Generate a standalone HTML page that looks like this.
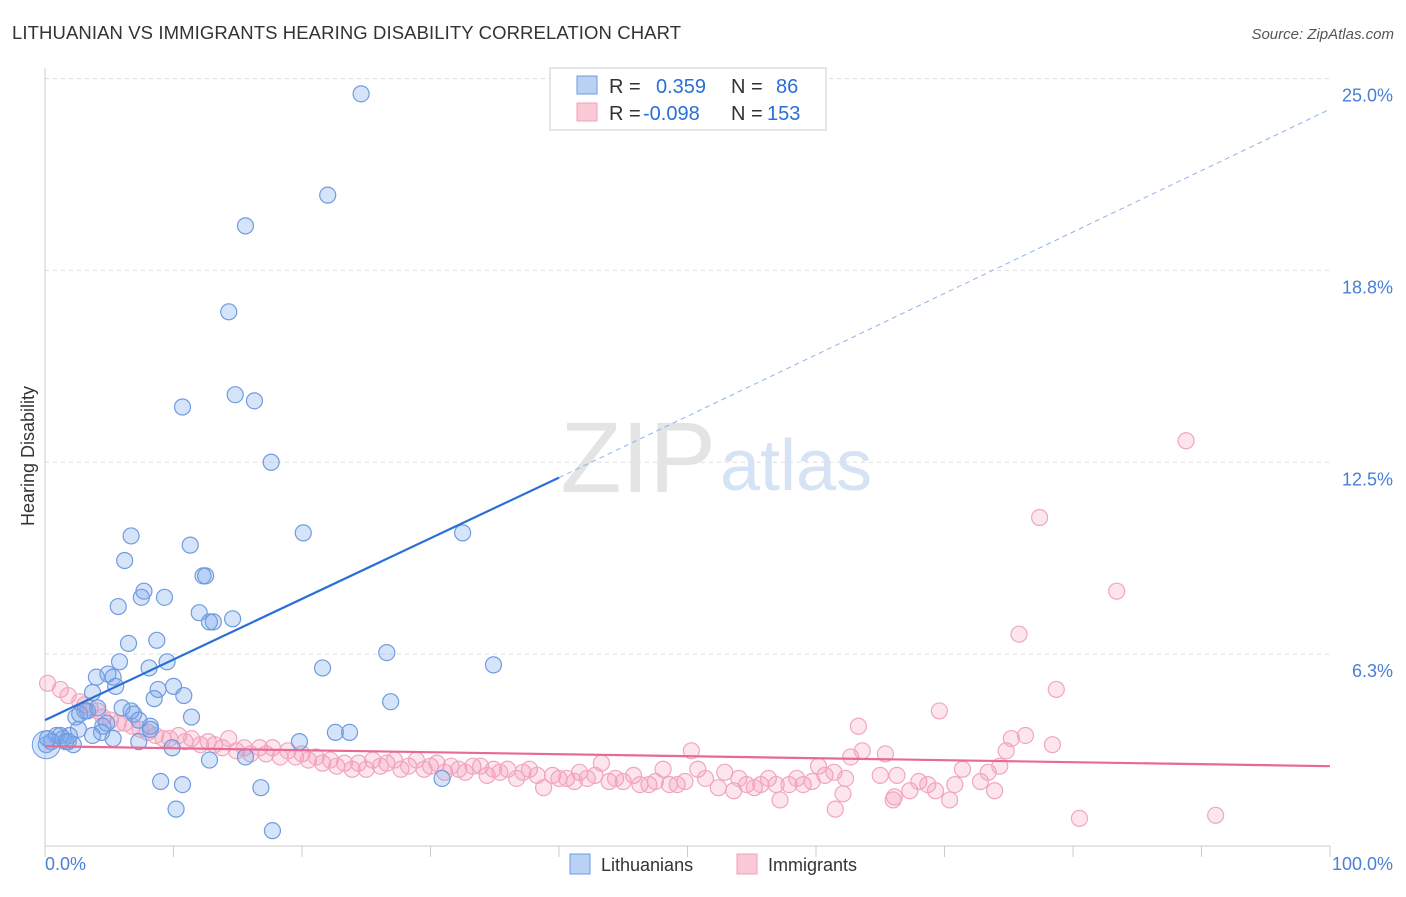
<!DOCTYPE html>
<html><head><meta charset="utf-8"><style>
body{margin:0;background:#fff;font-family:"Liberation Sans",sans-serif}
svg text{font-family:"Liberation Sans",sans-serif}
</style></head><body>
<svg width="1406" height="892" viewBox="0 0 1406 892">
<text x="12" y="39" font-size="18.5" letter-spacing="0.1" fill="#333">LITHUANIAN VS IMMIGRANTS HEARING DISABILITY CORRELATION CHART</text>
<text x="1394" y="39" font-size="15" fill="#555" font-style="italic" text-anchor="end">Source: ZipAtlas.com</text>
<g id="grid"></g>
<line x1="45" y1="68" x2="45" y2="846" stroke="#ccc"/>
<line x1="45" y1="846" x2="1330" y2="846" stroke="#ccc"/>
<g id="xticks"></g>
<text x="34" y="456" font-size="18" fill="#333" transform="rotate(-90 34 456)" text-anchor="middle">Hearing Disability</text>
<text x="716" y="492" font-size="100" fill="#e4e4e4" font-family="Liberation Serif" text-anchor="end">ZIP</text>
<text x="720" y="490" font-size="72" fill="#d5e3f5">atlas</text>
<g id="pink"></g><g id="blue"></g><g id="lines"></g>
<g>
<rect x="550" y="68" width="276" height="62" fill="#fff" stroke="#ccc"/>
<rect x="577" y="76" width="20" height="18" fill="#b9d1f5" stroke="#6f9be0"/>
<rect x="577" y="103" width="20" height="18" fill="#fbc8d6" stroke="#f0a0b8"/>
<text x="609" y="93" font-size="20" fill="#333">R = <tspan fill="#2a6fd6" x="656">0.359</tspan><tspan x="731">N =</tspan><tspan fill="#2a6fd6" x="776">86</tspan></text>
<text x="609" y="120" font-size="20" fill="#333">R = <tspan fill="#2a6fd6" x="643">-0.098</tspan><tspan x="731">N =</tspan><tspan fill="#2a6fd6" x="767">153</tspan></text>
</g>
<g>
<rect x="570" y="854" width="20" height="20" fill="#b9d1f5" stroke="#6f9be0"/>
<text x="601" y="871" font-size="18" fill="#333">Lithuanians</text>
<rect x="737" y="854" width="20" height="20" fill="#fbc8d6" stroke="#f0a0b8"/>
<text x="768" y="871" font-size="18" fill="#333">Immigrants</text>
</g>
</svg>
<script>
const yTicks=[6.25,12.5,18.75,25];
const yTickLabels=["6.3%","12.5%","18.8%","25.0%"];
const xTicks=[0,10,20,30,40,50,60,70,80,90,100];
const blueX=[24.6,22.0,15.6,14.3,10.7,14.8,16.3,17.6,6.7,20.1,32.5,11.3,6.2,12.3,12.5,7.7,5.7,7.5,9.3,12.0,12.8,13.1,14.6,6.5,8.7,5.8,8.1,9.5,21.6,26.6,34.9,4.0,4.9,5.3,3.7,5.5,8.8,10.0,10.8,8.5,26.9,6.0,4.1,3.3,2.4,2.7,6.9,6.7,11.4,7.3,8.2,4.5,4.8,22.6,23.7,4.4,2.6,1.9,1.4,0.9,0.5,0.1,0.2,3.7,5.3,7.3,8.2,9.9,12.8,15.6,19.8,9.0,10.7,10.2,16.8,17.7,30.9,2.2,1.6,1.2,3.1,1.8];
const blueY=[24.5,21.2,20.2,17.4,14.3,14.7,14.5,12.5,10.1,10.2,10.2,9.8,9.3,8.8,8.8,8.3,7.8,8.1,8.1,7.6,7.3,7.3,7.4,6.6,6.7,6.0,5.8,6.0,5.8,6.3,5.9,5.5,5.6,5.5,5.0,5.2,5.1,5.2,4.9,4.8,4.7,4.5,4.5,4.4,4.2,4.3,4.3,4.4,4.2,4.1,3.9,3.9,4.0,3.7,3.7,3.7,3.8,3.6,3.5,3.6,3.4,3.3,3.5,3.6,3.5,3.4,3.8,3.2,2.8,2.9,3.4,2.1,2.0,1.2,1.9,0.5,2.2,3.3,3.4,3.6,4.4,3.4];
const pinkX=[0.2,1.2,1.8,2.7,3.1,3.5,4.1,4.5,5.1,5.7,6.2,6.8,7.4,8.0,8.6,9.2,9.7,10.4,10.9,11.4,12.1,12.7,13.2,13.8,14.3,14.9,15.5,16.0,16.7,17.2,17.7,18.3,18.9,19.5,20.0,20.5,21.1,21.6,22.2,22.7,23.3,23.9,24.4,25.0,25.5,26.1,26.6,27.2,27.7,28.3,28.9,29.5,30.0,30.5,31.1,31.6,32.2,32.7,33.3,33.9,34.4,34.9,35.4,36.0,36.7,37.2,37.7,38.3,38.8,39.5,40.0,40.6,41.2,41.6,42.2,42.8,43.3,43.9,44.4,45.0,45.8,46.3,47.0,47.5,48.1,48.6,49.2,49.8,50.3,50.8,51.4,52.4,52.9,53.6,54.0,54.6,55.2,55.7,56.3,56.9,57.2,57.9,58.5,59.0,59.7,60.2,60.7,61.4,61.5,62.1,62.7,62.3,63.3,63.6,65.4,66.0,65.0,66.3,66.1,67.3,68.0,69.6,68.7,69.3,70.4,70.8,71.4,72.8,73.4,73.9,74.3,74.8,75.2,75.8,77.4,78.4,78.7,80.5,83.4,88.8,91.1,76.3];
const pinkY=[5.3,5.1,4.9,4.7,4.6,4.5,4.4,4.2,4.1,4.0,4.0,3.9,3.8,3.7,3.6,3.5,3.5,3.6,3.4,3.5,3.3,3.4,3.3,3.2,3.5,3.1,3.2,3.0,3.2,3.0,3.2,2.9,3.1,2.9,3.0,2.8,2.9,2.7,2.8,2.6,2.7,2.5,2.7,2.5,2.8,2.6,2.7,2.8,2.5,2.6,2.8,2.5,2.6,2.7,2.4,2.6,2.5,2.4,2.6,2.6,2.3,2.5,2.4,2.5,2.2,2.4,2.5,2.3,1.9,2.3,2.2,2.2,2.1,2.4,2.2,2.3,2.7,2.1,2.2,2.1,2.3,2.0,2.0,2.1,2.5,2.0,2.0,2.1,3.1,2.5,2.2,1.9,2.4,1.8,2.2,2.0,1.9,2.0,2.2,2.0,1.5,2.0,2.2,2.0,2.1,2.6,2.3,2.4,1.2,1.7,2.9,2.2,3.9,3.1,3.0,1.5,2.3,2.3,1.6,1.8,2.1,4.4,2.0,1.8,1.5,2.0,2.5,2.1,2.4,1.8,2.6,3.1,3.5,6.9,10.7,3.3,5.1,0.9,8.3,13.2,1.0,3.6];
const blueLine=[[0,4.1],[40,12.0],[100,24.0]];
const pinkLine=[[0,3.25],[100,2.6]];
const xs=v=>45+v*12.85, ys=v=>846-v*30.7;
const NS="http://www.w3.org/2000/svg";
function mk(t,a,p){const e=document.createElementNS(NS,t);for(const k in a)e.setAttribute(k,a[k]);document.getElementById(p).appendChild(e);return e;}
yTicks.forEach((v,i)=>{
 const l=mk('line',{x1:45,x2:1330,y1:ys(v),y2:ys(v),stroke:'#ddd','stroke-dasharray':'4,4'},'grid');
 
 
 const t=mk('text',{x:1393,y:ys(v)+23,'font-size':18,fill:'#4a7fd4','text-anchor':'end'},'grid');
 t.textContent=yTickLabels[i];
 
 
});
xTicks.forEach(v=>{
 const l=mk('line',{x1:xs(v),x2:xs(v),y1:846,y2:857,stroke:'#ccc'},'xticks');
 
 
});
[[0,"0.0%",'start',45],[100,"100.0%",'end',1393]].forEach(d=>{
 const t=mk('text',{x:d[3],y:870,'font-size':18,fill:'#4a7fd4','text-anchor':d[2]},'xticks');
 t.textContent=d[1];
 
 
});
pinkX.forEach((x,i)=>{
 const c=mk('circle',{cx:xs(x),cy:ys(pinkY[i]),r:8,fill:'rgba(245,150,180,0.25)',stroke:'#f2a6be','stroke-width':1.2},'pink');
 
 
});
blueX.forEach((x,i)=>{
 const c=mk('circle',{cx:xs(x),cy:ys(blueY[i]),r:8,fill:'rgba(120,165,235,0.3)',stroke:'#6f9be0','stroke-width':1.2},'blue');
 
 
});
const big=mk('circle',{cx:xs(0.1),cy:ys(3.3),r:14,fill:'rgba(120,165,235,0.3)',stroke:'#6f9be0'},'blue');


let l=mk('line',{x1:xs(blueLine[0][0]),y1:ys(blueLine[0][1]),x2:xs(blueLine[1][0]),y2:ys(blueLine[1][1]),stroke:'#2a6fd6','stroke-width':2.2},'lines');


l=mk('line',{x1:xs(blueLine[1][0]),y1:ys(blueLine[1][1]),x2:xs(blueLine[2][0]),y2:ys(blueLine[2][1]),stroke:'#8fb2e8','stroke-width':1,'stroke-dasharray':'5,4'},'lines');


l=mk('line',{x1:xs(pinkLine[0][0]),y1:ys(pinkLine[0][1]),x2:xs(pinkLine[1][0]),y2:ys(pinkLine[1][1]),stroke:'#e86a94','stroke-width':2.2},'lines');


</script>
</body></html>
